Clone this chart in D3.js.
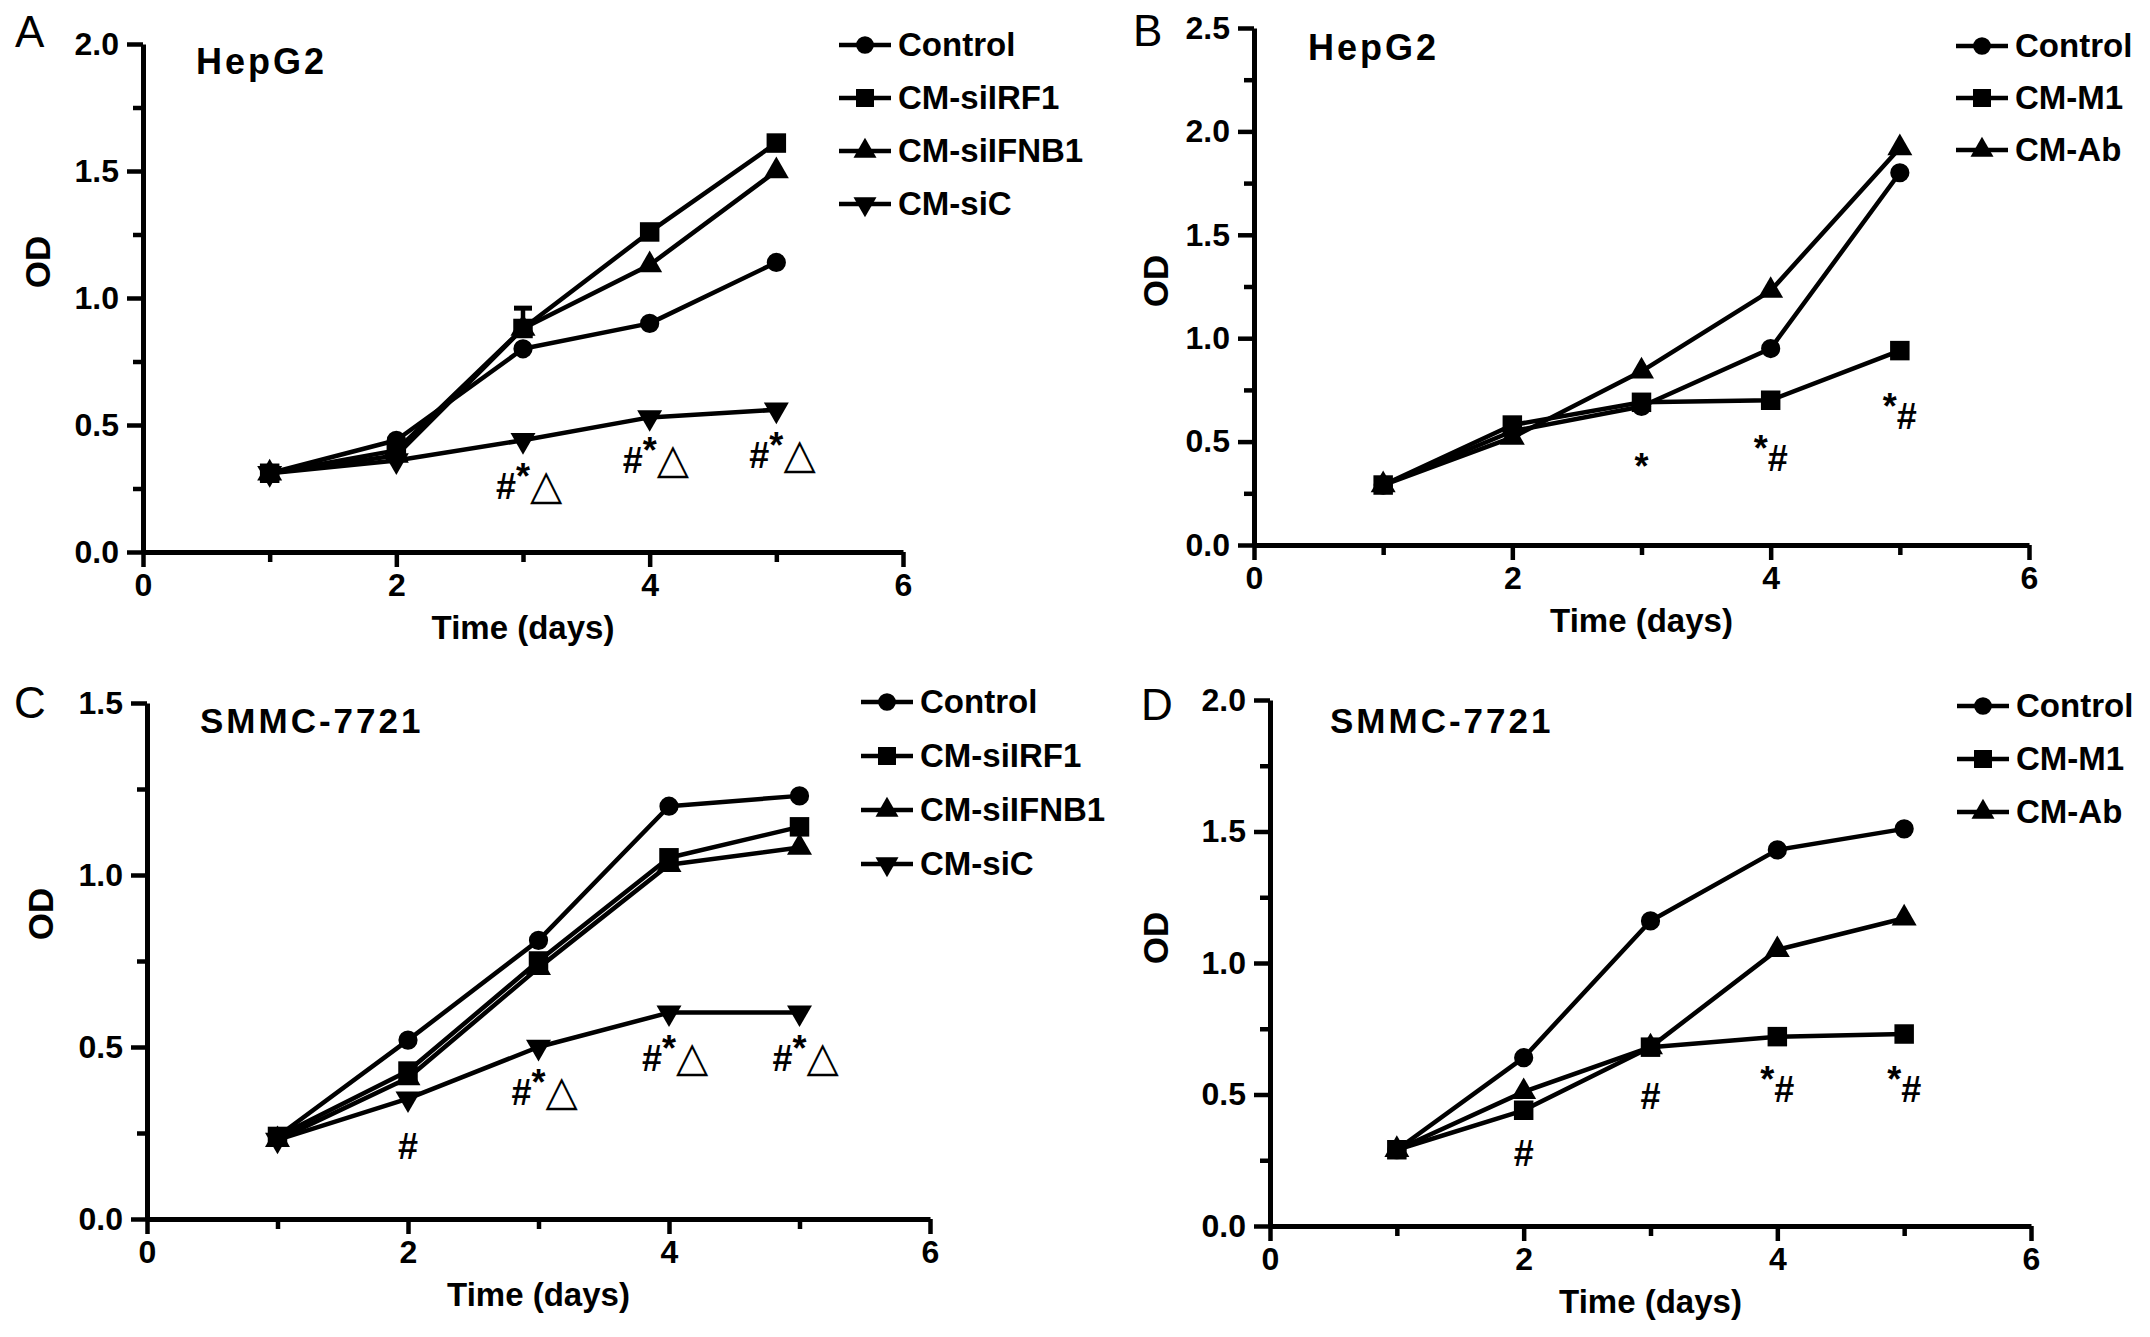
<!DOCTYPE html>
<html>
<head>
<meta charset="utf-8">
<script src="https://cdn.jsdelivr.net/npm/d3@7"></script>
<style>
  body { margin: 0; background: #fff; }
  svg { display: block; font-family: "Liberation Sans", Arial, sans-serif; }
</style>
</head>
<body>
<script>
// days on x
const days = [1, 2, 3, 4, 5];

// panel A - HepG2, siRNA conditioned media
const seriesA = ['Control', 'CM-siIRF1', 'CM-siIFNB1', 'CM-siC'];
const odA_control = [0.31, 0.44, 0.80, 0.90, 1.14];
const odA_siIRF1 = [0.31, 0.40, 0.88, 1.26, 1.61];
const odA_siIFNB1 = [0.31, 0.38, 0.88, 1.13, 1.50];
const odA_siC = [0.31, 0.36, 0.44, 0.53, 0.56];
const errA_siIRF1 = [0, 0, 0.08, 0, 0];
const notesA = [
  {day: 3, od: 0.21, text: '#*△'},
  {day: 4, od: 0.31, text: '#*△'},
  {day: 5, od: 0.33, text: '#*△'}
];

// panel B - HepG2, M1 / antibody
const seriesB = ['Control', 'CM-M1', 'CM-Ab'];
const odB_control = [0.29, 0.55, 0.67, 0.95, 1.80];
const odB_M1 = [0.29, 0.58, 0.69, 0.70, 0.94];
const odB_Ab = [0.29, 0.52, 0.84, 1.23, 1.92];
const notesB = [
  {day: 3, od: 0.27, text: '*'},
  {day: 4, od: 0.36, text: '*#'},
  {day: 5, od: 0.56, text: '*#'}
];

// panel C - SMMC-7721, siRNA conditioned media
const seriesC = ['Control', 'CM-siIRF1', 'CM-siIFNB1', 'CM-siC'];
const odC_control = [0.24, 0.52, 0.81, 1.20, 1.23];
const odC_siIRF1 = [0.24, 0.43, 0.75, 1.05, 1.14];
const odC_siIFNB1 = [0.23, 0.41, 0.73, 1.03, 1.08];
const odC_siC = [0.23, 0.35, 0.50, 0.60, 0.60];
const notesC = [
  {day: 2, od: 0.175, text: '#'},
  {day: 3, od: 0.33, text: '#*△'},
  {day: 4, od: 0.43, text: '#*△'},
  {day: 5, od: 0.43, text: '#*△'}
];

// panel D - SMMC-7721, M1 / antibody
const seriesD = ['Control', 'CM-M1', 'CM-Ab'];
const odD_control = [0.29, 0.64, 1.16, 1.43, 1.51];
const odD_M1 = [0.29, 0.44, 0.68, 0.72, 0.73];
const odD_Ab = [0.29, 0.51, 0.68, 1.05, 1.17];
const notesD = [
  {day: 2, od: 0.23, text: '#'},
  {day: 3, od: 0.445, text: '#'},
  {day: 4, od: 0.47, text: '*#'},
  {day: 5, od: 0.47, text: '*#'}
];

const xTicks = [0, 1, 2, 3, 4, 5, 6];
const xLabels = [0, 2, 4, 6];

const W = 2150, H = 1337;
const svg = d3.select('body').append('svg').attr('width', W).attr('height', H);

// marker shapes, by series position
const shapes = [d3.symbolCircle, d3.symbolSquare, d3.symbolTriangle, 'down'];
const symSize = [290, 380, 270, 270];

function marker(g, kind, size) {
  if (kind === 'down') {
    return g.append('path').attr('d', d3.symbol(d3.symbolTriangle, size)())
      .attr('transform', 'rotate(180)');
  }
  return g.append('path').attr('d', d3.symbol(kind, size)());
}

const panels = [
  {letter: 'A', title: 'HepG2', names: seriesA, values: [odA_control, odA_siIRF1, odA_siIFNB1, odA_siC],
   errors: [null, errA_siIRF1, null, null], notes: notesA, yMax: 2.0,
   xr: [143, 903], yr: [552, 44], letterPos: [15, 47], titlePos: [196, 74], od: [50, 262],
   legend: {x: 839, len: 52, y: 45, step: 53}},
  {letter: 'B', title: 'HepG2', names: seriesB, values: [odB_control, odB_M1, odB_Ab],
   errors: [], notes: notesB, yMax: 2.5,
   xr: [1254, 2029], yr: [545, 28], letterPos: [1133, 46], titlePos: [1308, 60], od: [1168, 281],
   legend: {x: 1956, len: 52, y: 46, step: 52}},
  {letter: 'C', title: 'SMMC-7721', names: seriesC, values: [odC_control, odC_siIRF1, odC_siIFNB1, odC_siC],
   errors: [], notes: notesC, yMax: 1.5,
   xr: [147, 930], yr: [1219, 703], letterPos: [14, 718], titlePos: [200, 733], od: [53, 914],
   legend: {x: 861, len: 52, y: 702, step: 54}},
  {letter: 'D', title: 'SMMC-7721', names: seriesD, values: [odD_control, odD_M1, odD_Ab],
   errors: [], notes: notesD, yMax: 2.0,
   xr: [1270, 2031], yr: [1226, 700], letterPos: [1141, 720], titlePos: [1330, 733], od: [1168, 938],
   legend: {x: 1957, len: 52, y: 706, step: 53}}
];

panels.forEach(p => drawPanel(p));

function drawPanel(p) {
  const x = d3.scaleLinear().domain([0, 6]).range(p.xr);
  const y = d3.scaleLinear().domain([0, p.yMax]).range(p.yr);
  const g = svg.append('g');

  // y axis: labels every 0.5, short ticks every 0.25
  const isMajorY = v => Math.abs(v * 2 - Math.round(v * 2)) < 1e-6;
  const yVals = d3.range(0, p.yMax + 0.001, 0.25);
  const yAxis = d3.axisLeft(y).tickValues(yVals).tickSize(16).tickSizeOuter(0).tickPadding(8)
    .tickFormat(v => isMajorY(v) ? d3.format('.1f')(v) : '');
  const yg = g.append('g').attr('transform', `translate(${p.xr[0]},0)`).call(yAxis);
  yg.selectAll('.tick').filter(v => !isMajorY(v)).select('line').attr('x2', -10);

  const xAxis = d3.axisBottom(x).tickValues(xTicks).tickSize(15).tickSizeOuter(0).tickPadding(6)
    .tickFormat(v => xLabels.includes(v) ? v : '');
  const xg = g.append('g').attr('transform', `translate(0,${p.yr[0]})`).call(xAxis);
  xg.selectAll('.tick').filter(v => !xLabels.includes(v)).select('line').attr('y2', 10);

  g.selectAll('.domain').attr('stroke', '#000').attr('stroke-width', 5);
  g.selectAll('.tick line').attr('stroke', '#000').attr('stroke-width', 4.5);
  g.selectAll('.tick text').attr('fill', '#000').attr('font-size', 32).attr('font-weight', 'bold')
    .attr('font-family', '"Liberation Sans", Arial, sans-serif');

  // axis titles
  g.append('text').attr('x', (p.xr[0] + p.xr[1]) / 2).attr('y', p.yr[0] + 87)
    .attr('text-anchor', 'middle').attr('font-size', 33).attr('font-weight', 'bold').text('Time (days)');
  g.append('text').attr('transform', `translate(${p.od[0]},${p.od[1]}) rotate(-90)`)
    .attr('text-anchor', 'middle').attr('font-size', 35).attr('font-weight', 'bold').text('OD');

  // panel letter and cell line
  g.append('text').attr('x', p.letterPos[0]).attr('y', p.letterPos[1])
    .attr('font-size', 44).text(p.letter);
  g.append('text').attr('x', p.titlePos[0]).attr('y', p.titlePos[1])
    .attr('font-size', p.title === 'HepG2' ? 36 : 35).attr('font-weight', 'bold').attr('letter-spacing', 3)
    .text(p.title);

  const line = d3.line().x((d, i) => x(days[i])).y(d => y(d));

  p.values.forEach(vals => {
    g.append('path').datum(vals).attr('d', line)
      .attr('fill', 'none').attr('stroke', '#000').attr('stroke-width', 4.5).attr('stroke-linejoin', 'round');
  });

  // error bars (upper half only is visible)
  p.values.forEach((vals, si) => {
    const err = p.errors[si];
    if (!err) return;
    vals.forEach((v, i) => {
      if (!err[i]) return;
      const cx = x(days[i]);
      g.append('line').attr('x1', cx).attr('x2', cx).attr('y1', y(v)).attr('y2', y(v + err[i]))
        .attr('stroke', '#000').attr('stroke-width', 4.5);
      g.append('line').attr('x1', cx - 9).attr('x2', cx + 9).attr('y1', y(v + err[i])).attr('y2', y(v + err[i]))
        .attr('stroke', '#000').attr('stroke-width', 5);
    });
  });

  p.values.forEach((vals, si) => {
    vals.forEach((v, i) => {
      const m = g.append('g').attr('transform', `translate(${x(days[i])},${y(v)})`);
      marker(m, shapes[si], symSize[si]).attr('fill', '#000');
    });
  });

  // significance marks
  p.notes.forEach(n => {
    const hasTri = n.text.includes('△');
    const t = g.append('text').attr('y', y(n.od)).attr('font-weight', 'bold').attr('font-size', 36)
      .attr('x', x(n.day) + (hasTri ? -27 : 0)).attr('text-anchor', hasTri ? 'start' : 'middle');
    let raised = false;
    Array.from(n.text).forEach(ch => {
      const s = t.append('tspan').text(ch);
      if (ch === '*') { s.attr('dy', -10); raised = true; }
      else if (raised) { s.attr('dy', 10); raised = false; }
      if (ch === '△') s.attr('font-weight', 'normal').attr('font-size', 42)
        .attr('font-family', '"DejaVu Sans", sans-serif');
    });
  });

  // legend
  p.names.forEach((name, si) => {
    const ly = p.legend.y + si * p.legend.step;
    const lg = g.append('g');
    lg.append('line').attr('x1', p.legend.x).attr('x2', p.legend.x + p.legend.len)
      .attr('y1', ly).attr('y2', ly).attr('stroke', '#000').attr('stroke-width', 4.5);
    const m = lg.append('g').attr('transform', `translate(${p.legend.x + p.legend.len / 2},${ly})`);
    marker(m, shapes[si], symSize[si] * 0.85).attr('fill', '#000');
    lg.append('text').attr('x', p.legend.x + p.legend.len + 7).attr('y', ly + 11)
      .attr('font-size', 33).attr('font-weight', 'bold').text(name);
  });
}
</script>
</body>
</html>
